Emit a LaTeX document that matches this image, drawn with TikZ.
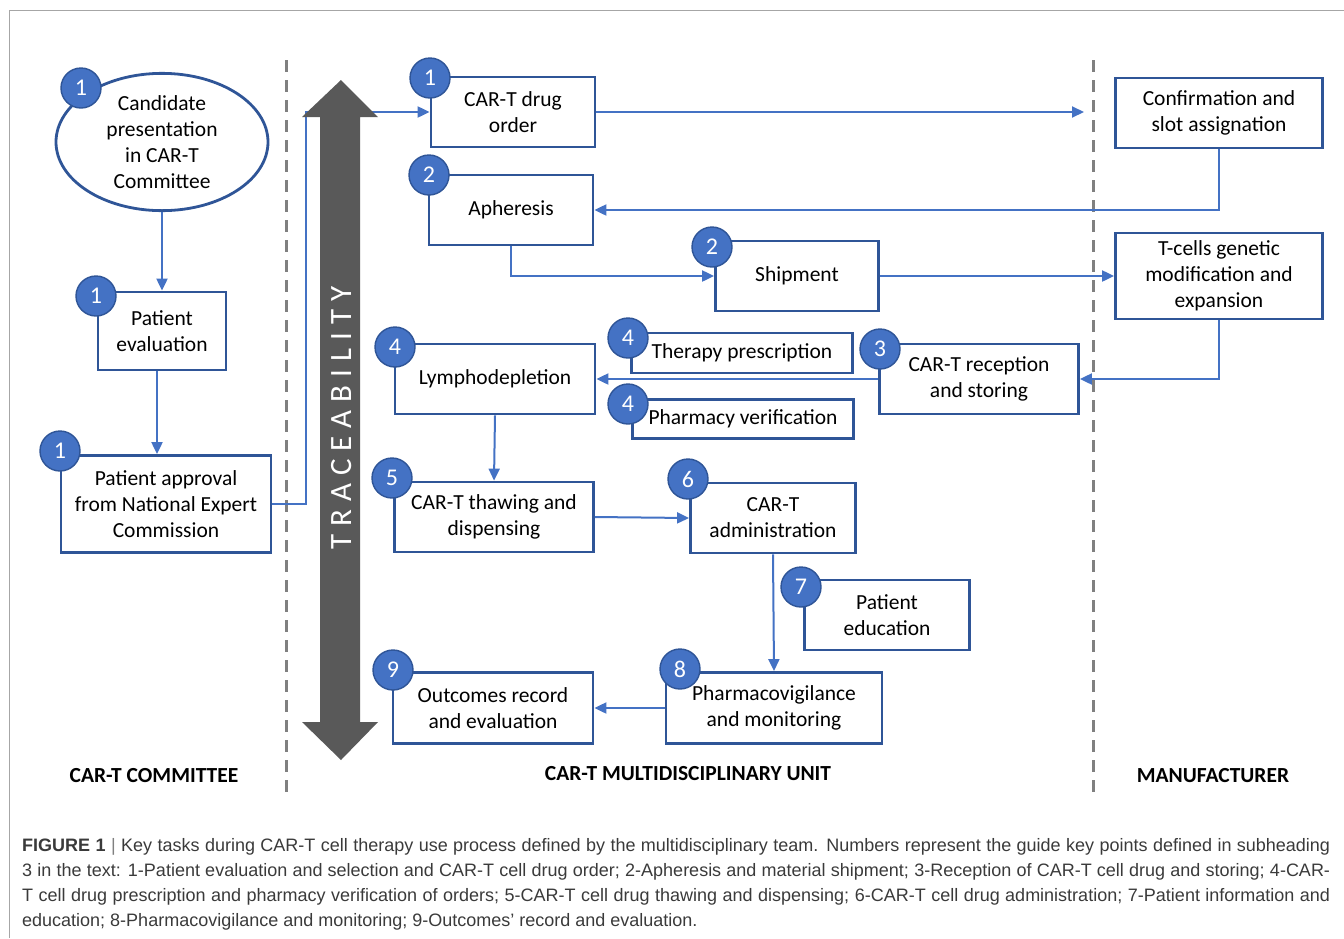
\documentclass[tikz,border=0pt]{standalone}
\usepackage{fontspec}
\setmainfont{Carlito}
\newfontfamily\capfont{Liberation Sans}
\newfontfamily\tracefont[LetterSpace=26]{Carlito}
\usetikzlibrary{shapes.geometric,arrows.meta}
\definecolor{boxblue}{HTML}{2F5597}
\definecolor{lineblue}{HTML}{4472C4}
\definecolor{trgray}{HTML}{595959}
\definecolor{sepgray}{HTML}{808080}
\definecolor{capgray}{HTML}{3A3A3A}
\tikzset{
  box/.style={draw=boxblue, line width=2.8pt, fill=white, align=center,
    inner sep=2pt, font=\fontsize{21.5}{26}\selectfont},
  oval/.style={box, ellipse},
  num/.style={circle, draw=boxblue, line width=1.4pt, fill=lineblue,
    minimum size=40pt, inner sep=0pt, text=white, font=\fontsize{24}{24}\selectfont},
  conn/.style={draw=lineblue, line width=2pt},
  arr/.style={conn, -{Triangle[length=12pt,width=11pt]}},
  sep/.style={draw=sepgray, line width=3pt, dash pattern=on 12pt off 8pt},
  head/.style={font=\bfseries\fontsize{21.5}{22}\selectfont}
}
\begin{document}
\begin{tikzpicture}[x=1pt,y=-1pt]
\useasboundingbox (0,0) rectangle (1344,938);
\draw[black!35, line width=1pt] (9,938) -- (9,10) -- (1344,10);

% lanes
\draw[sep] (286,60) -- (286,797);
\draw[sep] (1093,60) -- (1093,797);
\draw (154,776) node[head] (hcom) {CAR-T COMMITTEE};
\draw (688,774) node[head] (hunit) {CAR-T MULTIDISCIPLINARY UNIT};
\draw (1213,776) node[head] (hman) {MANUFACTURER};

% committee
\draw (162,142) node[oval, minimum width=212, minimum height=129] (cand) {Candidate\\presentation\\in CAR-T\\Committee};
\draw (162,331) node[box, minimum width=128, minimum height=78] (peval) {Patient\\evaluation};
\draw (166,504) node[box, minimum width=210, minimum height=97] (appr) {Patient approval\\from National Expert\\Commission};

% unit
\draw (513,112) node[box, minimum width=164, minimum height=70] (order) {CAR-T drug\\order};
\draw (511,210) node[box, minimum width=164, minimum height=70] (aph) {Apheresis};
\draw (797,276) node[box, minimum width=163, minimum height=70] (ship) {Shipment};
\draw (979,379) node[box, minimum width=199, minimum height=70] (recep) {CAR-T reception\\and storing};
\draw (742,353) node[box, minimum width=221, minimum height=40] (presc) {Therapy prescription};
\draw (743,419) node[box, minimum width=221, minimum height=39] (verif) {Pharmacy verification};
\draw (495,379) node[box, minimum width=200, minimum height=70] (lympho) {Lymphodepletion};
\draw (494,517) node[box, minimum width=199, minimum height=70] (thaw) {CAR-T thawing and\\dispensing};
\draw (773,518) node[box, minimum width=165, minimum height=70] (admin) {CAR-T\\administration};
\draw (887,615) node[box, minimum width=165, minimum height=70] (educ) {Patient\\education};
\draw (774,708) node[box, minimum width=216, minimum height=71] (pv) {Pharmacovigilance\\and monitoring};
\draw (493,708) node[box, minimum width=200, minimum height=71] (outc) {Outcomes record\\and evaluation};

% manufacturer
\draw (1219,113) node[box, minimum width=207, minimum height=70] (conf) {Confirmation and\\slot assignation};
\draw (1219,276) node[box, minimum width=207, minimum height=86] (tcell) {T-cells genetic\\modification and\\expansion};
\coordinate (mfr) at (1084,112);

% connectors
\draw[arr] (cand.south) -- (peval.north);
\draw[arr] ([xshift=-5pt]peval.south) -- ([xshift=-9pt]appr.north);
\draw[arr] (appr.east) -- ++(34,0) |- (order.west);
\draw[arr] (order.east) -- (mfr);
\draw[arr] (conf.south) |- (aph.east);
\draw[arr] (aph.south) |- (ship.west);
\draw[arr] (ship.east) -- (tcell.west);
\draw[arr] (tcell.south) |- (recep.east);
\draw[arr] (recep.west) -- (lympho.east);
\draw[arr] (lympho.south) -- (thaw.north);
\draw[arr] (thaw.east) -- (admin.west);
\draw[arr] (admin.south) -- (pv.north);
\draw[arr] (pv.west) -- (outc.east);

% traceability
\fill[trgray] (341,80) -- (378,117) -- (360,117) -- (360,722) -- (378,722)
  -- (341,760) -- (302,722) -- (320,722) -- (320,117) -- (302,117) -- cycle;
\draw (342,418) node[rotate=90, text=white, font=\tracefont\fontsize{31}{31}\selectfont] (trace) {TRACEABILITY};

% key points
\draw (81,88) node[num] (k1a) {1};
\draw (96,296) node[num] (k1b) {1};
\draw (60,451) node[num] (k1c) {1};
\draw (430,78) node[num] (k1d) {1};
\draw (429,175) node[num] (k2a) {2};
\draw (712,247) node[num] (k2b) {2};
\draw (880,349) node[num] (k3) {3};
\draw (628,338) node[num] (k4a) {4};
\draw (628,404) node[num] (k4b) {4};
\draw (395,347) node[num] (k4c) {4};
\draw (392,478) node[num] (k5) {5};
\draw (688,479) node[num] (k6) {6};
\draw (801,587) node[num] (k7) {7};
\draw (680,669) node[num] (k8) {8};
\draw (393,670) node[num] (k9) {9};

% caption
\draw (22,838) node[anchor=north west, text width=1308pt, inner sep=0pt, align=justify,
  text=capgray, font=\capfont\fontsize{18}{25}\selectfont] (cap)
  {\textbf{FIGURE 1} {\color{black!50}|} Key tasks during CAR-T cell therapy use process defined by the multidisciplinary team. Numbers represent the guide key points defined in subheading\linebreak
  3 in the text: 1-Patient evaluation and selection and CAR-T cell drug order; 2-Apheresis and material shipment; 3-Reception of CAR-T cell drug and storing; 4-CAR-\linebreak
  T cell drug prescription and pharmacy verification of orders; 5-CAR-T cell drug thawing and dispensing; 6-CAR-T cell drug administration; 7-Patient information and\linebreak
  education; 8-Pharmacovigilance and monitoring; 9-Outcomes’ record and evaluation.};
\end{tikzpicture}
\end{document}
